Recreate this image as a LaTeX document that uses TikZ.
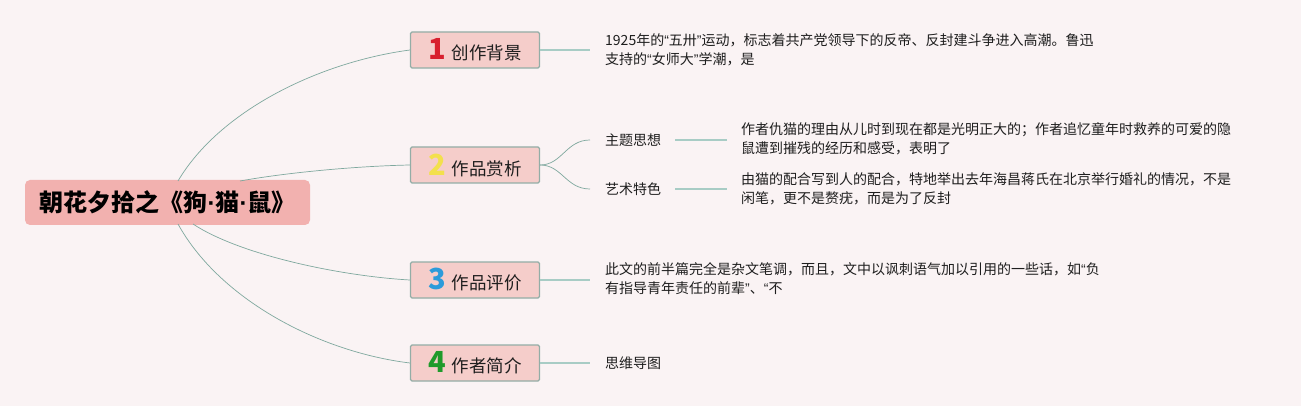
\documentclass[tikz,border=0pt]{standalone}
\usepackage{fontspec}
\setmainfont{Noto Sans CJK SC}
\newfontfamily\latinq{Liberation Sans}
\newcommand{\myoq}{{\latinq “}}
\newcommand{\mycq}{{\latinq ”}}
\newcommand{\mydot}{{\latinq\bfseries ·}}
\usetikzlibrary{calc}
\definecolor{bgc}{HTML}{FAF3F4}
\definecolor{rootfill}{HTML}{F2B1AF}
\definecolor{brfill}{HTML}{F5CDCA}
\definecolor{brdraw}{HTML}{93ADA6}
\definecolor{curvec}{HTML}{7FA89E}
\definecolor{linec}{HTML}{A8CCC5}
\definecolor{cone}{HTML}{D8202E}
\definecolor{ctwo}{HTML}{F3E04C}
\definecolor{cthree}{HTML}{2C9BDA}
\definecolor{cfour}{HTML}{1F9A2B}
\definecolor{txt}{HTML}{1E1E1E}
\tikzset{
  rootbox/.style={fill=rootfill, rounded corners=5pt, minimum width=285pt, minimum height=45pt, inner sep=0pt, font=\fontsize{24}{26}\selectfont\bfseries, text=black},
  branchbox/.style={fill=brfill, draw=brdraw, line width=1.2pt, rounded corners=1.5pt, minimum width=129pt, minimum height=36pt, inner sep=0pt, font=\fontsize{17.5}{20}\selectfont, text=txt},
  detail/.style={anchor=north west, inner sep=0pt, align=left, font=\fontsize{14}{19}\selectfont, text=txt},
  subtopic/.style={anchor=west, inner sep=0pt, font=\fontsize{14}{16}\selectfont, text=txt},
  curveline/.style={draw=curvec, line width=0.7pt},
  stline/.style={draw=linec, line width=1.1pt}
}
\newcommand{\bignum}[2]{\textcolor{#1}{\fontsize{29}{29}\selectfont\bfseries #2}}
\begin{document}
\begin{tikzpicture}[x=1pt,y=-1pt]
\fill[bgc] (0,0) rectangle (1301,406);
\useasboundingbox (0,0) rectangle (1301,406);

\node[rootbox] (root) at (167.5,202.5) {朝花夕拾之《狗\mydot 猫\mydot 鼠》};

\node[branchbox] (b1) at (475,50) {\bignum{cone}{1}\hspace{6pt}创作背景};
\node[branchbox] (b2) at (475,165) {\bignum{ctwo}{2}\hspace{6pt}作品赏析};
\node[branchbox] (b3) at (475,280) {\bignum{cthree}{3}\hspace{6pt}作品评价};
\node[branchbox] (b4) at (475,363) {\bignum{cfour}{4}\hspace{6pt}作者简介};

% root to branch curves
\coordinate (r1) at (178,181);
\coordinate (r2) at (240,181);
\coordinate (r3) at (193,224);
\coordinate (r4) at (178,224);
\draw[curveline] (r1) .. controls (220,110) and (320,62) .. (b1.west);
\draw[curveline] (r2) .. controls (290,172) and (360,166) .. (b2.west);
\draw[curveline] (r3) .. controls (240,255) and (340,276) .. (b3.west);
\draw[curveline] (r4) .. controls (220,300) and (320,352) .. (b4.west);

% branch 1
\coordinate (e1) at (590,50);
\draw[stline] (b1.east) -- (e1);
\node[detail] (d1) at (605,33) {1925年的\myoq 五卅\mycq 运动，标志着共产党领导下的反帝、反封建斗争进入高潮。鲁迅\\支持的\myoq 女师大\mycq 学潮，是};

% branch 2
\node[subtopic] (s1) at (605,140) {主题思想};
\node[subtopic] (s2) at (605,189) {艺术特色};
\draw[curveline] (b2.east) .. controls (562,165) and (566,140) .. ($(s1.west)+(-15,0)$);
\draw[curveline] (b2.east) .. controls (562,165) and (566,189) .. ($(s2.west)+(-15,0)$);
\coordinate (t1) at (727,140);
\coordinate (t2) at (727,189);
\draw[stline] ($(s1.east)+(14,0)$) -- (t1);
\draw[stline] ($(s2.east)+(14,0)$) -- (t2);
\node[detail] (d2) at (741,122) {作者仇猫的理由从儿时到现在都是光明正大的；作者追忆童年时救养的可爱的隐\\鼠遭到摧残的经历和感受，表明了};
\node[detail] (d3) at (741,172) {由猫的配合写到人的配合，特地举出去年海昌蒋氏在北京举行婚礼的情况，不是\\闲笔，更不是赘疣，而是为了反封};

% branch 3
\coordinate (e3) at (590,280);
\draw[stline] (b3.east) -- (e3);
\node[detail] (d4) at (605,262) {此文的前半篇完全是杂文笔调，而且，文中以讽刺语气加以引用的一些话，如\myoq 负\\有指导青年责任的前辈\mycq 、\myoq 不};

% branch 4
\coordinate (e4) at (590,363);
\draw[stline] (b4.east) -- (e4);
\node[subtopic] (d5) at (605,363) {思维导图};
\end{tikzpicture}
\end{document}
